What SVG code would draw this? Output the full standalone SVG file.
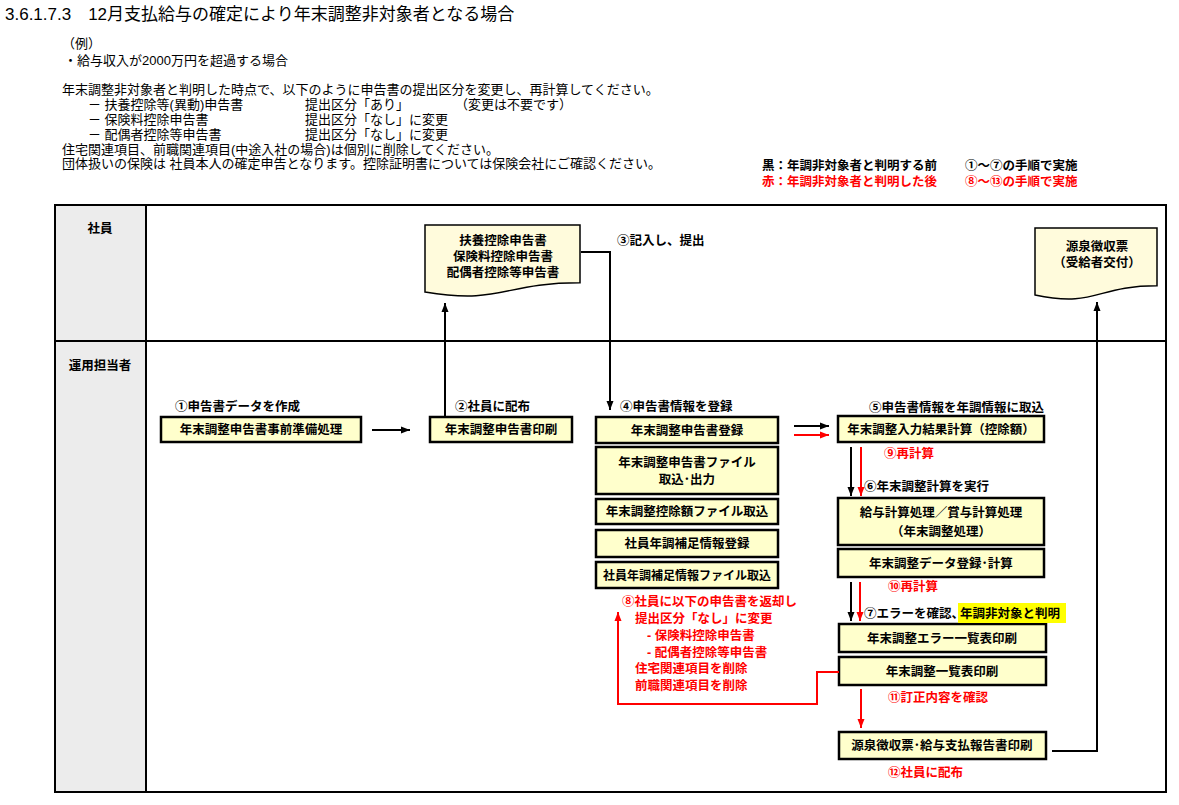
<svg xmlns="http://www.w3.org/2000/svg" width="1179" height="805" viewBox="0 0 1179 805">
<defs>
<style>
text{font-family:"Liberation Sans","Noto Sans CJK JP",sans-serif;fill:#000}
.t{font-size:13px}
.ti{font-size:17px}
.b{font-size:12.5px;font-weight:bold}
.r{fill:#ff0000}
.m{text-anchor:middle}
.e{text-anchor:end}
.box{fill:#ffffcc;stroke:#000;stroke-width:2.5}
.doc{fill:#fffbdc;stroke:#000;stroke-width:1.5}
.ln{fill:none;stroke:#000;stroke-width:2}
.lr{fill:none;stroke:#ff0000;stroke-width:2}
</style>
<marker id="ak" markerUnits="userSpaceOnUse" markerWidth="10" markerHeight="8" refX="9" refY="4" orient="auto"><path d="M0,0.5 L9,4 L0,7.5 Z" fill="#000"/></marker>
<marker id="ar" markerUnits="userSpaceOnUse" markerWidth="10" markerHeight="8" refX="9" refY="4" orient="auto"><path d="M0,0.5 L9,4 L0,7.5 Z" fill="#ff0000"/></marker>
</defs>
<rect width="1179" height="805" fill="#fff"/>

<g id="intro">
<text class="ti" x="5" y="20">3.6.1.7.3　12月支払給与の確定により年末調整非対象者となる場合</text>
<text class="t" x="62" y="48">（例）</text>
<text class="t" x="64" y="65">・給与収入が2000万円を超過する場合</text>
<text class="t" x="62" y="94">年末調整非対象者と判明した時点で、以下のように申告書の提出区分を変更し、再計算してください。</text>
<text class="t" x="88" y="109">－ 扶養控除等(異動)申告書</text>
<text class="t" x="305" y="109">提出区分「あり」</text>
<text class="t" x="455" y="109">（変更は不要です）</text>
<text class="t" x="88" y="124">－ 保険料控除申告書</text>
<text class="t" x="305" y="124">提出区分「なし」に変更</text>
<text class="t" x="88" y="139">－ 配偶者控除等申告書</text>
<text class="t" x="305" y="139">提出区分「なし」に変更</text>
<text class="t" x="62" y="154">住宅関連項目、前職関連項目(中途入社の場合)は個別に削除してください。</text>
<text class="t" x="62" y="168">団体扱いの保険は 社員本人の確定申告となります。控除証明書については保険会社にご確認ください。</text>
</g>

<g id="legend">
<text class="b" x="762" y="170">黒：年調非対象者と判明する前</text>
<text class="b" x="965" y="170">①～⑦の手順で実施</text>
<text class="b r" x="762" y="186">赤：年調非対象者と判明した後</text>
<text class="b r" x="965" y="186">⑧～⑬の手順で実施</text>
</g>

<g id="lanes">
<rect x="55" y="205" width="1111" height="587" fill="#fff" stroke="none"/>
<rect x="55" y="205" width="91" height="587" fill="#ececec" stroke="none"/>
<rect x="55" y="205" width="1111" height="587" fill="none" stroke="#000" stroke-width="2"/>
<line x1="146" y1="205" x2="146" y2="792" stroke="#000" stroke-width="2"/>
<line x1="55" y1="341" x2="1166" y2="341" stroke="#000" stroke-width="2"/>
<text class="b m" x="100" y="233">社員</text>
<text class="b m" x="100" y="370">運用担当者</text>
</g>

<g id="doc-shinkokusho">
<path class="doc" d="M425,225 H580 V282.7 C502.5,282.7 502.5,304.7 425,292 Z"/>
<text class="b m" x="503" y="245">扶養控除申告書</text>
<text class="b m" x="503" y="261">保険料控除申告書</text>
<text class="b m" x="503" y="277">配偶者控除等申告書</text>
</g>

<g id="doc-gensen">
<path class="doc" d="M1035,228 H1157 V285.7 C1096,285.7 1096,307.7 1035,295 Z"/>
<text class="b m" x="1097" y="251">源泉徴収票</text>
<text class="b m" x="1097" y="267">（受給者交付）</text>
</g>

<g id="n-jizen">
<rect class="box" x="161" y="417" width="200" height="25"/>
<text class="b m" x="261" y="434">年末調整申告書事前準備処理</text>
<text class="b" x="175" y="411">①申告書データを作成</text>
</g>

<g id="n-insatsu">
<rect class="box" x="430" y="417" width="142" height="25"/>
<text class="b m" x="501" y="434">年末調整申告書印刷</text>
<text class="b" x="455" y="411">②社員に配布</text>
</g>

<g id="n-toroku">
<rect class="box" x="596" y="417" width="182" height="26"/>
<text class="b m" x="687" y="434.5">年末調整申告書登録</text>
<text class="b" x="620" y="411">④申告書情報を登録</text>
</g>
<g id="n-file">
<rect class="box" x="596" y="447" width="182" height="47"/>
<text class="b m" x="687" y="467">年末調整申告書ファイル</text>
<text class="b m" x="687" y="484">取込･出力</text>
</g>
<g id="n-kojo">
<rect class="box" x="596" y="499" width="182" height="25"/>
<text class="b m" x="687" y="516">年末調整控除額ファイル取込</text>
</g>
<g id="n-hosoku">
<rect class="box" x="596" y="530" width="182" height="27"/>
<text class="b m" x="687" y="548">社員年調補足情報登録</text>
</g>
<g id="n-hosokufile">
<rect class="box" x="596" y="562" width="182" height="26"/>
<text class="b m" x="687" y="579.5" style="font-size:12px">社員年調補足情報ファイル取込</text>
</g>

<g id="n-nyuryoku">
<rect class="box" x="838" y="416" width="206" height="26"/>
<text class="b m" x="941" y="433.5">年末調整入力結果計算（控除額）</text>
<text class="b e" x="1044" y="412">⑤申告書情報を年調情報に取込</text>
</g>
<g id="n-keisan">
<rect class="box" x="838" y="498" width="206" height="47"/>
<text class="b m" x="941" y="517">給与計算処理／賞与計算処理</text>
<text class="b m" x="941" y="536">（年末調整処理）</text>
</g>
<g id="n-data">
<rect class="box" x="838" y="549" width="206" height="28"/>
<text class="b m" x="941" y="567.5">年末調整データ登録･計算</text>
</g>
<g id="n-error">
<rect class="box" x="839" y="624" width="207" height="28"/>
<text class="b m" x="942" y="642.5">年末調整エラー一覧表印刷</text>
</g>
<g id="n-ichiran">
<rect class="box" x="839" y="657" width="207" height="28"/>
<text class="b m" x="942" y="675.5">年末調整一覧表印刷</text>
</g>
<g id="n-gensen">
<rect class="box" x="839" y="732" width="207" height="27"/>
<text class="b m" x="942" y="750">源泉徴収票･給与支払報告書印刷</text>
</g>

<g id="step-labels">
<text class="b" x="617" y="244.5">③記入し、提出</text>
<text class="b r" x="884" y="457.5">⑨再計算</text>
<text class="b" x="864" y="490.5">⑥年末調整計算を実行</text>
<text class="b r" x="888" y="591">⑩再計算</text>
<rect x="958" y="603" width="108" height="20" fill="#ffff00"/>
<text class="b" x="864" y="617.5">⑦エラーを確認、</text>
<text class="b" x="960" y="617.5">年調非対象と判明</text>
<text class="b r" x="888" y="701.5">⑪訂正内容を確認</text>
<text class="b r" x="888" y="776.5">⑫社員に配布</text>
<text class="b r" x="622" y="605.5">⑧社員に以下の申告書を返却し</text>
<text class="b r" x="635" y="622.5">提出区分「なし」に変更</text>
<text class="b r" x="647" y="639.5">- 保険料控除申告書</text>
<text class="b r" x="647" y="656.5">- 配偶者控除等申告書</text>
<text class="b r" x="635" y="672.5">住宅関連項目を削除</text>
<text class="b r" x="635" y="689.5">前職関連項目を削除</text>
</g>

<g id="connectors">
<path class="ln" d="M372,430 H410" marker-end="url(#ak)"/>
<path class="ln" d="M445,417 V303" stroke="#222" marker-end="url(#ak)"/>
<path class="ln" d="M581,252 H610 V410" marker-end="url(#ak)"/>
<path class="ln" d="M794,426 H829" marker-end="url(#ak)"/>
<path class="lr" d="M794,435 H829" marker-end="url(#ar)"/>
<path class="ln" d="M851,447 V496" marker-end="url(#ak)"/>
<path class="lr" d="M861,447 V496" marker-end="url(#ar)"/>
<path class="ln" d="M851,582 V621" marker-end="url(#ak)"/>
<path class="lr" d="M860,582 V621" marker-end="url(#ar)"/>
<path class="lr" d="M861,689 V728" marker-end="url(#ar)"/>
<path class="lr" d="M839,672 H817 V704 H618 V612" marker-end="url(#ar)"/>
<path class="ln" d="M1052,751 H1097 V302" marker-end="url(#ak)"/>
</g>
</svg>
